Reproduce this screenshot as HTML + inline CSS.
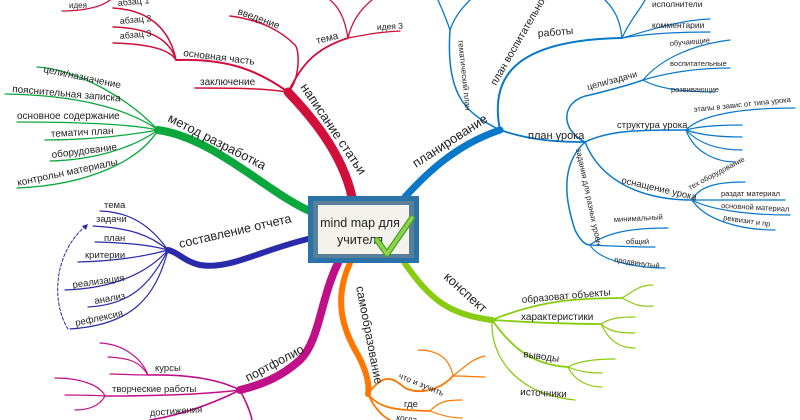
<!DOCTYPE html>
<html><head><meta charset="utf-8"><style>
html,body{margin:0;padding:0;background:#fff;}
svg{display:block;}
text{font-family:"Liberation Sans",sans-serif;fill:#222;}
</style></head><body>
<svg width="800" height="420" viewBox="0 0 800 420" xmlns="http://www.w3.org/2000/svg">
<g fill="none" stroke-linecap="round">
<!-- RED -->
<g stroke="#d0103a">
<path d="M352 197 C342 152 310 115 288 92" stroke-width="9"/>
<path d="M288 92 C260 88 230 88 195 88" stroke-width="1.5"/>
<path d="M288 92 C260 72 230 58 176 60" stroke-width="2"/>
<path d="M176 60 C170 50 150 44 113 43" stroke-width="1.5"/>
<path d="M176 60 C170 40 150 28 113 27" stroke-width="1.5"/>
<path d="M176 60 C170 30 150 10 113 8" stroke-width="1.5"/>
<path d="M110 0 C100 8 80 11 62 11" stroke-width="1.2"/>
<path d="M288 92 C300 80 300 50 295 45 C280 30 260 20 230 16" stroke-width="1.5"/>
<path d="M288 92 C300 70 310 50 348 38" stroke-width="1.8"/>
<path d="M348 38 C370 34 380 32 400 31" stroke-width="1.3"/>
<path d="M348 38 C345 20 340 8 330 0" stroke-width="1.3"/>
<path d="M348 38 C352 20 362 8 372 0" stroke-width="1.3"/>
</g>
<!-- GREEN -->
<g stroke="#0aa83c">
<path d="M312 212 C270 195 215 138 158 130" stroke-width="8"/>
<path d="M158 130 C130 100 80 70 37 67" stroke-width="1.3"/>
<path d="M158 130 C130 110 80 95 5 94" stroke-width="1.3"/>
<path d="M158 130 C130 124 80 122 17 122" stroke-width="1.3"/>
<path d="M158 130 C130 135 90 140 45 140" stroke-width="1.3"/>
<path d="M158 130 C130 150 90 160 50 161" stroke-width="1.3"/>
<path d="M158 130 C140 160 90 185 17 188" stroke-width="1.3"/>
</g>
<!-- DARK BLUE -->
<g stroke="#2a2aaa">
<path d="M312 238 C260 250 230 270 200 265 C185 262 178 252 168 250" stroke-width="6"/>
<path d="M168 250 C150 225 130 212 100 211" stroke-width="1.2"/>
<path d="M168 250 C150 235 130 228 93 226" stroke-width="1.2"/>
<path d="M168 250 C150 245 130 243 95 242" stroke-width="1.2"/>
<path d="M168 250 C150 255 120 261 78 262" stroke-width="1.2"/>
<path d="M168 250 C150 270 120 288 65 290" stroke-width="1.2"/>
<path d="M168 250 C150 285 130 305 88 307" stroke-width="1.2"/>
<path d="M168 250 C155 300 130 325 70 329" stroke-width="1.2"/>
<path d="M68 329 C50 300 55 250 87 225" stroke-width="1" stroke-dasharray="3,2"/>
</g>
<polygon points="88,224 82,226 86,230" fill="#2a2aaa"/>
<!-- MAGENTA -->
<g stroke="#c01088">
<path d="M338 263 C320 300 320 340 300 360 C280 378 260 385 240 390" stroke-width="8"/>
<path d="M240 390 C220 380 190 374 148 375" stroke-width="1.6"/>
<path d="M148 375 C140 355 120 344 100 343" stroke-width="1.2"/>
<path d="M148 375 C140 362 130 358 108 357" stroke-width="1.2"/>
<path d="M148 375 C130 375 120 374 110 374" stroke-width="1.2"/>
<path d="M240 390 C200 395 150 396 105 396" stroke-width="1.6"/>
<path d="M105 396 C100 385 80 378 55 378" stroke-width="1.2"/>
<path d="M105 396 C90 395 80 395 65 395" stroke-width="1.2"/>
<path d="M105 396 C100 405 90 410 75 410" stroke-width="1.2"/>
<path d="M240 390 C210 405 180 415 150 420" stroke-width="1.6"/>
<path d="M240 390 C245 400 250 410 252 420" stroke-width="1.6"/>
</g>
<!-- ORANGE -->
<g stroke="#ff7700">
<path d="M350 263 C333 300 343 330 358 355 C366 370 370 385 368 394" stroke-width="6"/>
<path d="M368 394 C385 370 395 380 405 388 C420 395 440 390 453 376" stroke-width="1.8"/>
<path d="M453 376 C470 362 475 358 485 356" stroke-width="1.2"/>
<path d="M453 376 C470 376 475 377 485 377" stroke-width="1.2"/>
<path d="M453 376 C450 360 440 350 418 350" stroke-width="1.2"/>
<path d="M368 394 C380 410 400 410 430 411" stroke-width="1.8"/>
<path d="M430 411 C440 400 450 400 462 400" stroke-width="1.2"/>
<path d="M430 411 C440 415 450 418 462 418" stroke-width="1.2"/>
<path d="M368 394 C375 410 385 418 390 420" stroke-width="1.8"/>
</g>
<!-- LIGHT GREEN -->
<g stroke="#88cc11">
<path d="M404 262 C430 300 450 315 492 320" stroke-width="6"/>
<path d="M492 320 C540 300 580 298 622 298" stroke-width="1.8"/>
<path d="M622 298 C635 290 640 285 653 285" stroke-width="1.2"/>
<path d="M622 298 C635 305 640 307 653 306" stroke-width="1.2"/>
<path d="M492 320 C540 323 570 324 601 324" stroke-width="1.8"/>
<path d="M601 324 C610 318 620 317 635 317" stroke-width="1.2"/>
<path d="M601 324 C610 332 620 333 635 333" stroke-width="1.2"/>
<path d="M601 324 C610 342 620 348 635 348" stroke-width="1.2"/>
<path d="M492 320 C510 345 530 365 568 367" stroke-width="1.8"/>
<path d="M568 367 C580 360 600 359 615 359" stroke-width="1.2"/>
<path d="M568 367 C580 372 590 373 602 373" stroke-width="1.2"/>
<path d="M568 367 C575 382 590 387 602 387" stroke-width="1.2"/>
<path d="M492 320 C490 360 520 395 575 400" stroke-width="1.3"/>
</g>
<!-- BLUE -->
<g stroke="#0a78c8">
<path d="M405 197 C425 175 455 145 500 130" stroke-width="7"/>
<path d="M500 130 C470 115 445 100 450 30" stroke-width="1.5"/>
<path d="M450 30 C445 15 440 5 438 0" stroke-width="1.3"/>
<path d="M450 30 C455 15 465 5 470 0" stroke-width="1.3"/>
<path d="M500 130 C490 80 510 40 622 38" stroke-width="2"/>
<path d="M622 38 C630 20 640 10 645 0" stroke-width="1.3"/>
<path d="M622 38 C620 20 615 10 605 0" stroke-width="1.3"/>
<path d="M622 38 C650 30 680 20 710 19" stroke-width="1.2"/>
<path d="M622 38 C650 33 680 32 710 32" stroke-width="1.2"/>
<path d="M500 130 C530 140 555 142 585 142" stroke-width="1.8"/>
<path d="M585 142 C560 130 560 100 590 95 C610 90 630 85 643 80" stroke-width="1.5"/>
<path d="M643 80 C660 60 690 45 730 40" stroke-width="1.2"/>
<path d="M643 80 C670 72 700 68 730 68" stroke-width="1.2"/>
<path d="M643 80 C660 90 690 92 715 92" stroke-width="1.2"/>
<path d="M585 142 C610 130 640 130 686 130" stroke-width="1.5"/>
<path d="M686 130 C700 115 740 108 795 108" stroke-width="1.2"/>
<path d="M686 130 C700 126 720 125 742 125" stroke-width="1.2"/>
<path d="M686 130 C700 135 720 137 742 137" stroke-width="1.2"/>
<path d="M686 130 C700 145 720 150 742 150" stroke-width="1.2"/>
<path d="M686 130 C695 155 720 162 735 162" stroke-width="1.2"/>
<path d="M585 142 C600 180 640 200 692 200" stroke-width="1.5"/>
<path d="M692 200 C700 185 720 182 745 182" stroke-width="1.2"/>
<path d="M692 200 C720 200 750 200 785 200" stroke-width="1.2"/>
<path d="M692 200 C710 210 750 215 790 215" stroke-width="1.2"/>
<path d="M692 200 C705 220 740 230 775 230" stroke-width="1.2"/>
<path d="M585 142 C560 165 565 200 575 230 C580 240 585 245 590 245" stroke-width="1.5"/>
<path d="M590 245 C610 230 640 228 668 228" stroke-width="1.2"/>
<path d="M590 245 C610 246 640 247 655 247" stroke-width="1.2"/>
<path d="M590 245 C600 262 640 268 665 268" stroke-width="1.2"/>
</g>
</g>
<!-- central box -->
<rect x="308" y="196" width="111" height="67" fill="#2b72a8"/>
<rect x="313" y="201" width="101" height="57" fill="#5a7f99"/>
<rect x="318" y="205" width="91" height="49" fill="#f4f2ec"/>
<text x="360" y="227" font-size="12.5" text-anchor="middle">mind map для</text>
<text x="360" y="244" font-size="12.5" text-anchor="middle">учителя</text>
<path d="M377 240 L387 254 L412 218" fill="none" stroke="#4aa02a" stroke-width="6" stroke-linecap="round" stroke-linejoin="round"/>
<path d="M377 240 L387 254 L412 218" fill="none" stroke="#8ed44a" stroke-width="3.5" stroke-linecap="round" stroke-linejoin="round"/>

<!-- RED labels -->
<text font-size="13" transform="translate(300,87) rotate(56)">написание статьи</text>
<text font-size="10" transform="translate(183,56) rotate(7)">основная часть</text>
<text font-size="10" x="200" y="85">заключение</text>
<text font-size="9" transform="translate(120,24) rotate(-5)">абзац 2</text>
<text font-size="9" transform="translate(120,39) rotate(-5)">абзац 3</text>
<text font-size="9" transform="translate(118,6) rotate(-5)">абзац 1</text>
<text font-size="8" x="69" y="8">идея</text>
<text font-size="10" transform="translate(237,14) rotate(20)">введение</text>
<text font-size="10" transform="translate(317,44) rotate(-14)">тема</text>
<text font-size="8.5" transform="translate(377,30) rotate(-3)">идея 3</text>
<!-- GREEN labels -->
<text font-size="13" transform="translate(167,121) rotate(27)">метод разработка</text>
<text font-size="10" transform="translate(43,72) rotate(12)">цели/назначение</text>
<text font-size="10" transform="translate(12,92) rotate(5)">пояснительная записка</text>
<text font-size="10" x="17" y="119">основное содержание</text>
<text font-size="10" transform="translate(51,137) rotate(-3)">тематич план</text>
<text font-size="10" transform="translate(52,158) rotate(-7)">оборудование</text>
<text font-size="10" transform="translate(18,186) rotate(-12)">контрольн материалы</text>
<!-- DARK BLUE labels -->
<text font-size="12.5" transform="translate(180,248) rotate(-13)">составление отчета</text>
<text font-size="9.5" x="104" y="208">тема</text>
<text font-size="9.5" x="96" y="222">задачи</text>
<text font-size="9.5" x="104" y="241">план</text>
<text font-size="9.5" x="85" y="258">критерии</text>
<text font-size="9.5" transform="translate(73,288) rotate(-8)">реализация</text>
<text font-size="9.5" transform="translate(95,304) rotate(-10)">анализ</text>
<text font-size="9.5" transform="translate(76,326) rotate(-12)">рефлексия</text>
<!-- MAGENTA labels -->
<text font-size="12.5" transform="translate(248,382) rotate(-28)">портфолио</text>
<text font-size="9.5" x="155" y="371">курсы</text>
<text font-size="9.5" x="112" y="392">творческие работы</text>
<text font-size="9.5" transform="translate(150,416) rotate(-4)">достижения</text>
<!-- ORANGE labels -->
<text font-size="12" transform="translate(356,287) rotate(79)">самообразование</text>
<text font-size="8.5" transform="translate(398,378) rotate(22)">что и зучить</text>
<text font-size="9.5" x="404" y="407">где</text>
<text font-size="8.5" transform="translate(396,420) rotate(8)">когда</text>
<!-- LIGHT GREEN labels -->
<text font-size="13" transform="translate(443,278) rotate(42)">конспект</text>
<text font-size="10" transform="translate(522,303) rotate(-5)">образоват объекты</text>
<text font-size="10" x="521" y="320">характеристики</text>
<text font-size="10" transform="translate(523,357) rotate(8)">выводы</text>
<text font-size="10" transform="translate(520,395) rotate(3)">источники</text>
<!-- BLUE labels -->
<text font-size="13" transform="translate(416,168) rotate(-33)">планирование</text>
<text font-size="8" transform="translate(458,40) rotate(84)">тематический план</text>
<text font-size="10.5" transform="translate(496,86) rotate(-60)">план воспитательной</text>
<text font-size="10.5" x="538" y="37" transform="rotate(-5 538 37)">работы</text>
<text font-size="8.5" x="652" y="7">исполнители</text>
<text font-size="8.5" x="652" y="28">комментарии</text>
<text font-size="11" x="528" y="139">план урока</text>
<text font-size="9" transform="translate(588,90) rotate(-15)">цели/задачи</text>
<text font-size="7.5" transform="translate(670,46) rotate(-5)">обучающие</text>
<text font-size="7.5" x="670" y="66">воспитательные</text>
<text font-size="7.5" x="671" y="92">развивающие</text>
<text font-size="9.5" x="617" y="128">структура урока</text>
<text font-size="7.5" transform="translate(694,112) rotate(-6)">этапы в завис от типа урока</text>
<text font-size="9.5" transform="translate(621,183) rotate(13)">оснащение урока</text>
<text font-size="7.5" transform="translate(690,190) rotate(-28)">тех оборудование</text>
<text font-size="7.5" x="721" y="196">раздат материал</text>
<text font-size="7.5" transform="translate(721,208) rotate(3)">основной материал</text>
<text font-size="7.5" transform="translate(723,220) rotate(8)">реквизит и пр</text>
<text font-size="8" transform="translate(576,149) rotate(78)">задания для разных уровн</text>
<text font-size="7.5" transform="translate(614,222) rotate(-3)">минимальный</text>
<text font-size="7.5" x="626" y="244">общий</text>
<text font-size="7.5" transform="translate(614,262) rotate(8)">продвинутый</text>
</svg>
</body></html>
